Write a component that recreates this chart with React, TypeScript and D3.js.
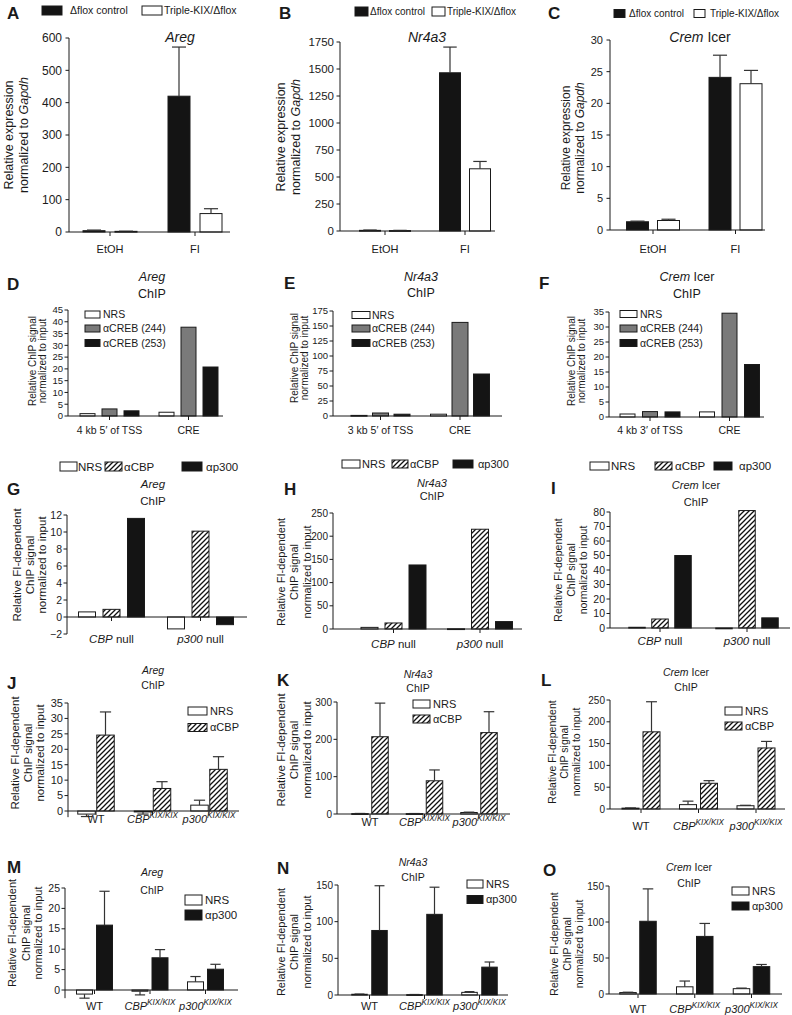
import React from "react";
import * as d3 from "d3";

const FONT = '"Liberation Sans", Arial, Helvetica, sans-serif';
const INK = "#1a1a1a";
const BLACK = "#141414";
const GRAY = "#7a7a7a";

// ---------------- categories & names ----------------
const exprCats = ["EtOH", "FI"];
const aregRegions = ["4 kb 5\u2032 of TSS", "CRE"];
const nr4a3Regions = ["3 kb 5\u2032 of TSS", "CRE"];
const cremRegions = ["4 kb 3\u2032 of TSS", "CRE"];
const nullCats = ["*CBP* null", "*p300* null"];
const kixCats = ["WT", "*CBP*^KIX/KIX", "*p300*^KIX/KIX"];

const exprNames = ["\u0394flox control", "Triple-KIX/\u0394flox"];
const crebNames = ["NRS", "\u03b1CREB (244)", "\u03b1CREB (253)"];
const nullNames = ["NRS", "\u03b1CBP", "\u03b1p300"];
const kixCbpNames = ["NRS", "\u03b1CBP"];
const kixP300Names = ["NRS", "\u03b1p300"];

// ---------------- A–C: expression ----------------
const aregCtrl = [4, 420];
const aregCtrlErr = [2, 152];
const aregKix = [2, 57];
const aregKixErr = [0.5, 15];

const nr4a3Ctrl = [6, 1465];
const nr4a3CtrlErr = [3, 238];
const nr4a3Kix = [4, 576];
const nr4a3KixErr = [2, 68];

const cremCtrl = [1.3, 24.1];
const cremCtrlErr = [0.1, 3.5];
const cremKix = [1.5, 23.1];
const cremKixErr = [0.2, 2.1];

// ---------------- D–F: CREB ChIP ----------------
const aregCrebNrs = [1.0, 1.6];
const aregCreb244 = [3.0, 37.7];
const aregCreb253 = [2.2, 20.8];

const nr4a3CrebNrs = [1, 3];
const nr4a3Creb244 = [5, 156];
const nr4a3Creb253 = [3, 70];

const cremCrebNrs = [1.0, 1.7];
const cremCreb244 = [1.8, 34.6];
const cremCreb253 = [1.7, 17.5];

// ---------------- G–I: null ChIP ----------------
const aregNullNrs = [0.6, -1.4];
const aregNullCbp = [0.9, 10.1];
const aregNullP300 = [11.6, -0.9];

const nr4a3NullNrs = [3.5, 0.5];
const nr4a3NullCbp = [13, 215];
const nr4a3NullP300 = [138, 16];

const cremNullNrs = [0.5, -0.3];
const cremNullCbp = [6.2, 81];
const cremNullP300 = [50, 7];

// ---------------- J–L: KIX CBP ChIP ----------------
const aregCbpNrs = [-1, -0.3, 1.9];
const aregCbpNrsErr = [0.8, 0.7, 1.6];
const aregCbp = [24.6, 7.3, 13.5];
const aregCbpErr = [7.5, 2.2, 4.1];

const nr4a3CbpNrs = [1, 1, 4];
const nr4a3CbpNrsErr = [0.5, 0.3, 1];
const nr4a3Cbp = [207, 89, 218];
const nr4a3CbpErr = [90, 29, 56];

const cremCbpNrs = [2, 10, 7.5];
const cremCbpNrsErr = [0.5, 8, 1];
const cremCbp = [177, 59, 140];
const cremCbpErr = [69, 6, 15];

// ---------------- M–O: KIX p300 ChIP ----------------
const aregP300Nrs = [-1, -0.3, 2.0];
const aregP300NrsErr = [1, 0.9, 1.3];
const aregP300 = [15.9, 7.9, 5.1];
const aregP300Err = [8.3, 2.0, 1.2];

const nr4a3P300Nrs = [1, 0.5, 3.6];
const nr4a3P300NrsErr = [0.3, 0.2, 1];
const nr4a3P300 = [88, 110, 38];
const nr4a3P300Err = [61, 37, 7];

const cremP300Nrs = [2, 10, 7.4];
const cremP300NrsErr = [0.5, 8, 0.8];
const cremP300 = [101, 80, 38];
const cremP300Err = [45, 18, 3];

// ---------------- types ----------------
type Fill = "black" | "white" | "gray" | "hatch";
type Series = { fill: Fill; values: number[]; errors?: number[] };
type LegPos = { x: number; y: number; gap: number; w?: number };
type Spec = {
  letter: string; lx: number; ly: number;
  title: { lines: string[]; x: number; ys: number[]; size: number };
  ytitle: { lines: string[]; xs: number[]; y: number; size: number };
  x0: number; x1: number;
  domain: [number, number]; range: [number, number]; tickStep: number; axisMin?: number;
  tickSize: number; tickGap: number;
  cats: string[]; c0: number; c1: number; catY: number; catSize: number;
  series: Series[]; barW: number; step: number;
  legNames: string[]; legPos: LegPos[]; legW: number; legH: number; legSize: number;
};

const fillFor = (f: Fill) =>
  f === "black" ? BLACK : f === "gray" ? GRAY : f === "hatch" ? "url(#hatch)" : "#fff";

function Rich({ text, sup }: { text: string; sup?: number }) {
  const parts = text.split(/(\*[^*]+\*|\^\S+)/).filter((p) => p !== "");
  return (
    <>
      {parts.map((p, i) => {
        if (p.startsWith("*"))
          return <tspan key={i} fontStyle="italic">{p.slice(1, -1)}</tspan>;
        if (p.startsWith("^"))
          return (
            <tspan key={i} fontStyle="italic" fontSize={sup ?? 8} dy={-5}>
              {p.slice(1)}
            </tspan>
          );
        return <tspan key={i}>{p}</tspan>;
      })}
    </>
  );
}

function Panel({ s }: { s: Spec }) {
  const y = d3.scaleLinear().domain(s.domain).range(s.range);
  const gx = d3.scalePoint<string>().domain(s.cats).range([s.c0, s.c1]);
  const n = s.series.length;
  const ticks = d3.range(s.domain[0], s.domain[1] + s.tickStep / 2, s.tickStep);
  const fmt = d3.format("d");
  const y0 = y(0);
  const axisBottom = y(s.axisMin ?? s.domain[0]);
  const capW = s.barW * 0.32;
  return (
    <g fontFamily={FONT} fill={INK}>
      <text x={s.lx} y={s.ly} fontSize={17} fontWeight="bold">{s.letter}</text>
      {s.title.lines.map((l, i) => (
        <text key={i} x={s.title.x} y={s.title.ys[i]} fontSize={s.title.size} textAnchor="middle">
          <Rich text={l} />
        </text>
      ))}
      {s.ytitle.lines.map((l, i) => (
        <text key={i} transform={`translate(${s.ytitle.xs[i]},${s.ytitle.y}) rotate(-90)`}
          fontSize={s.ytitle.size} textAnchor="middle">
          <Rich text={l} />
        </text>
      ))}
      {/* bars */}
      {s.series.map((se, i) =>
        s.cats.map((c, j) => {
          const cx = (gx(c) as number) + (i - (n - 1) / 2) * s.step;
          const v = se.values[j];
          const yv = y(v);
          const top = Math.min(yv, y0);
          const h = Math.max(Math.abs(yv - y0), 0.8);
          return (
            <rect key={`b${i}-${j}`} x={cx - s.barW / 2} y={top} width={s.barW} height={h}
              fill={fillFor(se.fill)} stroke={INK} strokeWidth={1} />
          );
        })
      )}
      {/* error bars */}
      {s.series.map((se, i) =>
        se.errors
          ? s.cats.map((c, j) => {
              const cx = (gx(c) as number) + (i - (n - 1) / 2) * s.step;
              const v = se.values[j];
              const e = se.errors![j];
              const dir = v >= 0 ? 1 : -1;
              const yv = y(v);
              const ye = y(v + dir * e);
              return (
                <g key={`e${i}-${j}`} stroke="#333" strokeWidth={1.2}>
                  <line x1={cx} x2={cx} y1={yv} y2={ye} />
                  <line x1={cx - capW} x2={cx + capW} y1={ye} y2={ye} />
                </g>
              );
            })
          : null
      )}
      {/* axes */}
      <g stroke={INK} strokeWidth={1}>
        <line x1={s.x0} x2={s.x0} y1={axisBottom} y2={y(s.domain[1])} />
        <line x1={s.x0} x2={s.x1} y1={y0} y2={y0} />
        {ticks.map((t) => (
          <line key={t} x1={s.x0 - 3.5} x2={s.x0} y1={y(t)} y2={y(t)} />
        ))}
        {s.cats.map((c) => (
          <line key={c} x1={gx(c)} x2={gx(c)} y1={y0} y2={y0 + 4} />
        ))}
      </g>
      {ticks.map((t) => (
        <text key={t} x={s.x0 - s.tickGap} y={y(t)} dy="0.35em" fontSize={s.tickSize} textAnchor="end">
          {fmt(t)}
        </text>
      ))}
      {s.cats.map((c) => (
        <text key={c} x={gx(c)} y={s.catY} fontSize={s.catSize} textAnchor="middle">
          <Rich text={c} sup={s.catSize * 0.74} />
        </text>
      ))}
      {/* legend */}
      {s.legNames.map((name, i) => {
        const p = s.legPos[i];
        const w = p.w ?? s.legW;
        return (
          <g key={name}>
            <rect x={p.x} y={p.y - s.legH / 2} width={w} height={s.legH}
              fill={fillFor(s.series[i].fill)} stroke={INK} strokeWidth={1} />
            <text x={p.x + w + p.gap} y={p.y} dy="0.36em" fontSize={s.legSize}>{name}</text>
          </g>
        );
      })}
    </g>
  );
}

const exprY = ["Relative expression", "normalized to *Gapdh*"];
const crebY = ["Relative ChIP signal", "normalized to input"];
const fiY = ["Relative FI-dependent", "ChIP signal", "normalized to input"];

const specs: Spec[] = [
  {
    letter: "A", lx: 7, ly: 19,
    title: { lines: ["*Areg*"], x: 180, ys: [42], size: 14 },
    ytitle: { lines: exprY, xs: [13, 28], y: 135, size: 12.5 },
    x0: 69, x1: 230, domain: [0, 600], range: [232, 38], tickStep: 100, tickSize: 12, tickGap: 7,
    cats: exprCats, c0: 110, c1: 195, catY: 253, catSize: 11,
    series: [
      { fill: "black", values: aregCtrl, errors: aregCtrlErr },
      { fill: "white", values: aregKix, errors: aregKixErr },
    ],
    barW: 22, step: 32,
    legNames: exprNames, legPos: [{ x: 42, y: 10.5, gap: 8 }, { x: 142, y: 10.5, gap: 2 }],
    legW: 20, legH: 9, legSize: 10.5,
  },
  {
    letter: "B", lx: 279, ly: 19,
    title: { lines: ["*Nr4a3*"], x: 427, ys: [42], size: 14 },
    ytitle: { lines: exprY, xs: [285, 300], y: 137, size: 12.5 },
    x0: 340, x1: 495, domain: [0, 1750], range: [231, 42], tickStep: 250, tickSize: 11.5, tickGap: 6,
    cats: exprCats, c0: 385, c1: 465, catY: 253, catSize: 11,
    series: [
      { fill: "black", values: nr4a3Ctrl, errors: nr4a3CtrlErr },
      { fill: "white", values: nr4a3Kix, errors: nr4a3KixErr },
    ],
    barW: 21, step: 30,
    legNames: exprNames, legPos: [{ x: 355, y: 11.5, gap: 2 }, { x: 432, y: 11.5, gap: 2 }],
    legW: 13, legH: 9, legSize: 10,
  },
  {
    letter: "C", lx: 548, ly: 19,
    title: { lines: ["*Crem* Icer"], x: 700, ys: [42], size: 14 },
    ytitle: { lines: exprY, xs: [570, 584], y: 138, size: 12 },
    x0: 610, x1: 765, domain: [0, 30], range: [230, 40], tickStep: 5, tickSize: 11, tickGap: 7,
    cats: exprCats, c0: 653, c1: 735.5, catY: 253, catSize: 11,
    series: [
      { fill: "black", values: cremCtrl, errors: cremCtrlErr },
      { fill: "white", values: cremKix, errors: cremKixErr },
    ],
    barW: 22, step: 31,
    legNames: exprNames, legPos: [{ x: 614, y: 13.5, gap: 4 }, { x: 694, y: 13.5, gap: 5 }],
    legW: 11, legH: 8, legSize: 10,
  },
  {
    letter: "D", lx: 7, ly: 290,
    title: { lines: ["*Areg*", "ChIP"], x: 152, ys: [281, 298], size: 12.5 },
    ytitle: { lines: crebY, xs: [36, 46], y: 361, size: 10 },
    x0: 68, x1: 223, domain: [0, 45], range: [416, 310], tickStep: 5, tickSize: 9.5, tickGap: 5,
    cats: aregRegions, c0: 109.5, c1: 188.5, catY: 434, catSize: 10.5,
    series: [
      { fill: "white", values: aregCrebNrs },
      { fill: "gray", values: aregCreb244 },
      { fill: "black", values: aregCreb253 },
    ],
    barW: 15, step: 22,
    legNames: crebNames,
    legPos: [{ x: 85, y: 314.5, gap: 3 }, { x: 85, y: 328.5, gap: 3 }, { x: 85, y: 343, gap: 3 }],
    legW: 15, legH: 7, legSize: 10.5,
  },
  {
    letter: "E", lx: 284, ly: 289,
    title: { lines: ["*Nr4a3*", "ChIP"], x: 421, ys: [281, 297], size: 12.5 },
    ytitle: { lines: crebY, xs: [298, 308], y: 358, size: 10 },
    x0: 333, x1: 502, domain: [0, 175], range: [416, 311], tickStep: 25, tickSize: 9.5, tickGap: 5,
    cats: nr4a3Regions, c0: 380.5, c1: 460, catY: 434, catSize: 10.5,
    series: [
      { fill: "white", values: nr4a3CrebNrs },
      { fill: "gray", values: nr4a3Creb244 },
      { fill: "black", values: nr4a3Creb253 },
    ],
    barW: 16, step: 21.5,
    legNames: crebNames,
    legPos: [{ x: 352, y: 315, gap: 2 }, { x: 352, y: 328.5, gap: 2 }, { x: 352, y: 343, gap: 2 }],
    legW: 18, legH: 7, legSize: 10.5,
  },
  {
    letter: "F", lx: 539, ly: 289,
    title: { lines: ["*Crem* Icer", "ChIP"], x: 687, ys: [281, 298], size: 12.5 },
    ytitle: { lines: crebY, xs: [575, 585], y: 361, size: 10 },
    x0: 609, x1: 764, domain: [0, 35], range: [417, 312], tickStep: 5, tickSize: 9.5, tickGap: 5,
    cats: cremRegions, c0: 650, c1: 729.5, catY: 434, catSize: 10.5,
    series: [
      { fill: "white", values: cremCrebNrs },
      { fill: "gray", values: cremCreb244 },
      { fill: "black", values: cremCreb253 },
    ],
    barW: 15, step: 22.5,
    legNames: crebNames,
    legPos: [{ x: 620, y: 314, gap: 3 }, { x: 620, y: 328.5, gap: 3 }, { x: 620, y: 343, gap: 3 }],
    legW: 17, legH: 7, legSize: 10.5,
  },
  {
    letter: "G", lx: 7, ly: 495,
    title: { lines: ["*Areg*", "ChIP"], x: 153, ys: [488, 505], size: 11.5 },
    ytitle: { lines: fiY, xs: [21, 34, 46], y: 565, size: 11.5 },
    x0: 67, x1: 247, domain: [-2, 12], range: [634, 515], tickStep: 2, tickSize: 10.5, tickGap: 5,
    cats: nullCats, c0: 111.5, c1: 200.5, catY: 643, catSize: 11.5,
    series: [
      { fill: "white", values: aregNullNrs },
      { fill: "hatch", values: aregNullCbp },
      { fill: "black", values: aregNullP300 },
    ],
    barW: 17, step: 24.5,
    legNames: nullNames,
    legPos: [{ x: 60, y: 466.5, gap: 1 }, { x: 105, y: 466.5, gap: 2 }, { x: 182, y: 466.5, gap: 4, w: 20 }],
    legW: 17, legH: 9, legSize: 11.5,
  },
  {
    letter: "H", lx: 284, ly: 495,
    title: { lines: ["*Nr4a3*", "ChIP"], x: 432, ys: [487, 500], size: 11 },
    ytitle: { lines: fiY, xs: [285, 298, 311], y: 572, size: 11 },
    x0: 333, x1: 522, domain: [0, 250], range: [629, 513], tickStep: 50, tickSize: 10, tickGap: 5,
    cats: nullCats, c0: 393.5, c1: 480, catY: 648, catSize: 11.5,
    series: [
      { fill: "white", values: nr4a3NullNrs },
      { fill: "hatch", values: nr4a3NullCbp },
      { fill: "black", values: nr4a3NullP300 },
    ],
    barW: 17, step: 24,
    legNames: nullNames,
    legPos: [{ x: 342, y: 464, gap: 2, w: 18 }, { x: 392, y: 464, gap: 2, w: 16 }, { x: 453, y: 464, gap: 5, w: 20 }],
    legW: 17, legH: 8, legSize: 11,
  },
  {
    letter: "I", lx: 551, ly: 494,
    title: { lines: ["*Crem* Icer", "ChIP"], x: 696, ys: [489, 506], size: 11 },
    ytitle: { lines: fiY, xs: [562, 575, 587], y: 570, size: 10.5 },
    x0: 610, x1: 790, domain: [0, 80], range: [628, 512], tickStep: 10, tickSize: 10.5, tickGap: 5,
    cats: nullCats, c0: 660, c1: 747, catY: 645, catSize: 11.5,
    series: [
      { fill: "white", values: cremNullNrs },
      { fill: "hatch", values: cremNullCbp },
      { fill: "black", values: cremNullP300 },
    ],
    barW: 16.5, step: 23,
    legNames: nullNames,
    legPos: [{ x: 590, y: 466, gap: 2, w: 19 }, { x: 655, y: 466, gap: 3 }, { x: 714, y: 466, gap: 7, w: 18 }],
    legW: 17, legH: 8, legSize: 11.5,
  },
  {
    letter: "J", lx: 7, ly: 689,
    title: { lines: ["*Areg*", "ChIP"], x: 153, ys: [674, 689], size: 10.5 },
    ytitle: { lines: fiY, xs: [19, 32, 44], y: 753, size: 11.5 },
    x0: 68, x1: 239, domain: [0, 35], range: [811, 703], tickStep: 5, axisMin: -2, tickSize: 11, tickGap: 5,
    cats: kixCats, c0: 96, c1: 209, catY: 823, catSize: 11,
    series: [
      { fill: "white", values: aregCbpNrs, errors: aregCbpNrsErr },
      { fill: "hatch", values: aregCbp, errors: aregCbpErr },
    ],
    barW: 17.5, step: 19,
    legNames: kixCbpNames,
    legPos: [{ x: 188, y: 711, gap: 3 }, { x: 188, y: 727.5, gap: 3 }],
    legW: 19, legH: 8, legSize: 11,
  },
  {
    letter: "K", lx: 277, ly: 686,
    title: { lines: ["*Nr4a3*", "ChIP"], x: 418, ys: [678, 692], size: 10.5 },
    ytitle: { lines: fiY, xs: [285, 298, 311], y: 750, size: 11.5 },
    x0: 337, x1: 510, domain: [0, 300], range: [814, 702], tickStep: 100, tickSize: 10, tickGap: 5,
    cats: kixCats, c0: 370, c1: 479, catY: 826, catSize: 11,
    series: [
      { fill: "white", values: nr4a3CbpNrs, errors: nr4a3CbpNrsErr },
      { fill: "hatch", values: nr4a3Cbp, errors: nr4a3CbpErr },
    ],
    barW: 16.5, step: 20,
    legNames: kixCbpNames,
    legPos: [{ x: 413, y: 704, gap: 3 }, { x: 413, y: 719, gap: 3 }],
    legW: 17, legH: 8, legSize: 11,
  },
  {
    letter: "L", lx: 541, ly: 686,
    title: { lines: ["*Crem* Icer", "ChIP"], x: 686, ys: [676, 691], size: 10.5 },
    ytitle: { lines: fiY, xs: [556, 568, 580], y: 752, size: 10.5 },
    x0: 610, x1: 785, domain: [0, 250], range: [809, 700], tickStep: 50, tickSize: 10, tickGap: 5,
    cats: kixCats, c0: 641, c1: 756, catY: 830, catSize: 11,
    series: [
      { fill: "white", values: cremCbpNrs, errors: cremCbpNrsErr },
      { fill: "hatch", values: cremCbp, errors: cremCbpErr },
    ],
    barW: 17, step: 21,
    legNames: kixCbpNames,
    legPos: [{ x: 725, y: 711, gap: 3 }, { x: 725, y: 726, gap: 3 }],
    legW: 17, legH: 8, legSize: 11,
  },
  {
    letter: "M", lx: 7, ly: 873,
    title: { lines: ["*Areg*", "ChIP"], x: 152, ys: [876, 894], size: 10.5 },
    ytitle: { lines: fiY, xs: [16, 30, 42], y: 933, size: 11 },
    x0: 65, x1: 238, domain: [0, 25], range: [990, 888], tickStep: 5, axisMin: -2, tickSize: 10.5, tickGap: 5,
    cats: kixCats, c0: 94.5, c1: 205.5, catY: 1010, catSize: 11,
    series: [
      { fill: "white", values: aregP300Nrs, errors: aregP300NrsErr },
      { fill: "black", values: aregP300, errors: aregP300Err },
    ],
    barW: 16, step: 20,
    legNames: kixP300Names,
    legPos: [{ x: 185, y: 900, gap: 3 }, { x: 185, y: 915, gap: 3 }],
    legW: 17, legH: 10, legSize: 11.5,
  },
  {
    letter: "N", lx: 277, ly: 874,
    title: { lines: ["*Nr4a3*", "ChIP"], x: 413, ys: [866, 881], size: 10.5 },
    ytitle: { lines: fiY, xs: [285, 298, 311], y: 942, size: 11 },
    x0: 338, x1: 508, domain: [0, 150], range: [995, 885], tickStep: 50, tickSize: 10, tickGap: 5,
    cats: kixCats, c0: 369.5, c1: 479.5, catY: 1010, catSize: 11,
    series: [
      { fill: "white", values: nr4a3P300Nrs, errors: nr4a3P300NrsErr },
      { fill: "black", values: nr4a3P300, errors: nr4a3P300Err },
    ],
    barW: 15.5, step: 20,
    legNames: kixP300Names,
    legPos: [{ x: 467, y: 884, gap: 3 }, { x: 467, y: 899.5, gap: 3 }],
    legW: 16, legH: 8, legSize: 11,
  },
  {
    letter: "O", lx: 543, ly: 876,
    title: { lines: ["*Crem* Icer", "ChIP"], x: 689, ys: [871, 887], size: 10.5 },
    ytitle: { lines: fiY, xs: [558, 571, 583], y: 944, size: 10.5 },
    x0: 609, x1: 782, domain: [0, 150], range: [994, 886], tickStep: 50, tickSize: 10, tickGap: 5,
    cats: kixCats, c0: 638, c1: 751.5, catY: 1013, catSize: 11,
    series: [
      { fill: "white", values: cremP300Nrs, errors: cremP300NrsErr },
      { fill: "black", values: cremP300, errors: cremP300Err },
    ],
    barW: 16.5, step: 20,
    legNames: kixP300Names,
    legPos: [{ x: 732, y: 891, gap: 3 }, { x: 732, y: 906, gap: 3 }],
    legW: 17, legH: 8, legSize: 11,
  },
];

export default function App() {
  return (
    <svg width={792} height={1015} viewBox="0 0 792 1015"
      style={{ position: "absolute", left: 0, top: 0, background: "#fff" }}>
      <defs>
        <pattern id="hatch" patternUnits="userSpaceOnUse" width={5} height={5}>
          <rect width={5} height={5} fill="#fff" />
          <path d="M-1,1 l2,-2 M0,5 l5,-5 M4,6 l2,-2" stroke="#111" strokeWidth={1.3} />
        </pattern>
      </defs>
      <rect width={792} height={1015} fill="#fff" />
      {specs.map((s) => (
        <Panel key={s.letter} s={s} />
      ))}
    </svg>
  );
}
